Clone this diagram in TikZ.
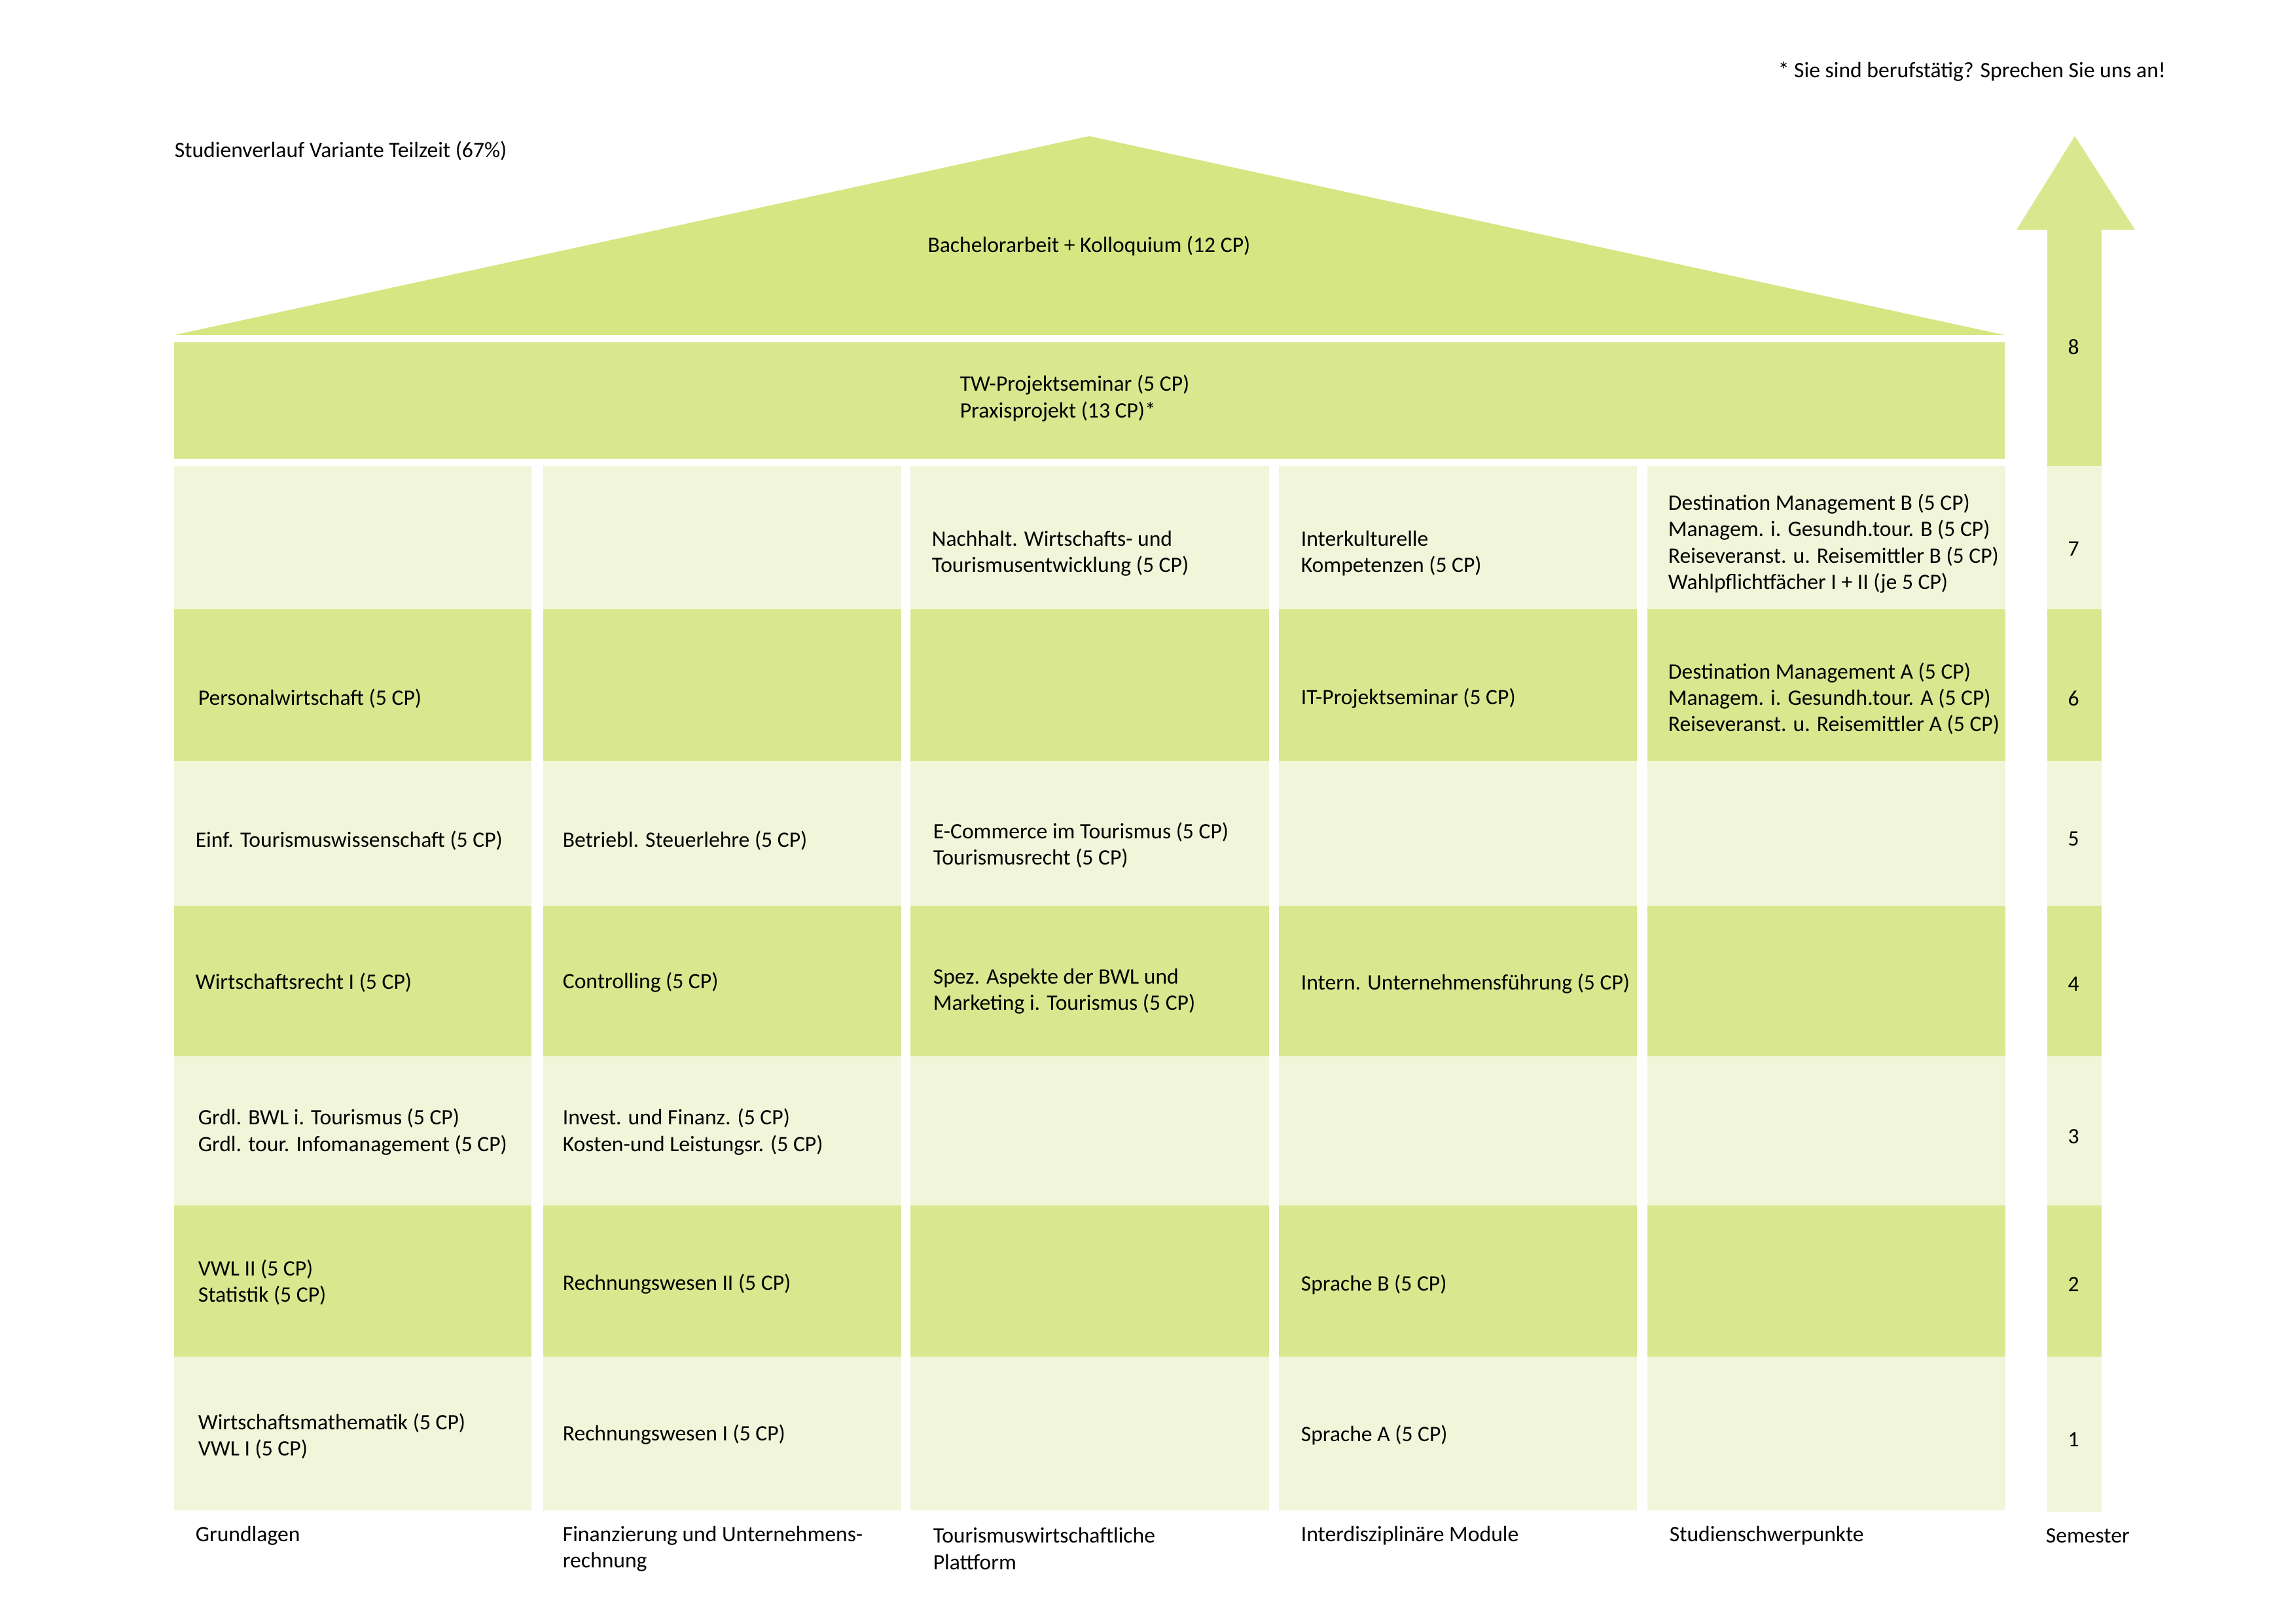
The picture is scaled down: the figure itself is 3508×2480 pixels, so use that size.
\documentclass[tikz,border=0pt]{standalone}
\usepackage{fontspec}
\setmainfont{Carlito}
\definecolor{roofgreen}{HTML}{D5E683}
\definecolor{darkcell}{HTML}{D9E78F}
\definecolor{lightcell}{HTML}{F1F6DA}
\begin{document}
\begin{tikzpicture}[x=0.08467mm,y=-0.08467mm,
  txt/.style={inner sep=0pt,align=left,anchor=west,yshift=-1.1pt,font=\fontsize{8.1}{9.7}\selectfont},
  lt/.style={fill=lightcell},
  dk/.style={fill=darkcell}]
\useasboundingbox (0,0) rectangle (3508,2480);
% roof
\fill[roofgreen] (266,512) -- (1664,208) -- (3063,512) -- cycle;
\node[txt,anchor=center] (bach) at (1664,371) {Bachelorarbeit + Kolloquium (12 CP)};
% TW band
\fill[darkcell] (266,523) rectangle (3063,701);
\node[txt] (tw) at (1466,604) {TW-Projektseminar (5 CP)\\Praxisprojekt (13 CP)*};
% grid cells
\foreach \xa/\xb in {266/812,830/1377,1391/1939,1954/2501,2517/3064}{
  \fill[lt] (\xa,712) rectangle (\xb,931);
  \fill[dk] (\xa,931) rectangle (\xb,1163);
  \fill[lt] (\xa,1163) rectangle (\xb,1384);
  \fill[dk] (\xa,1384) rectangle (\xb,1614);
  \fill[lt] (\xa,1614) rectangle (\xb,1842);
  \fill[dk] (\xa,1842) rectangle (\xb,2073);
  \fill[lt] (\xa,2073) rectangle (\xb,2308);
}
% semester column and arrow
\fill[darkcell] (3081,351) -- (3170,208) -- (3262,351) -- cycle;
\fill[dk] (3128,350) rectangle (3211,712);
\fill[lt] (3128,712) rectangle (3211,931);
\fill[dk] (3128,931) rectangle (3211,1163);
\fill[lt] (3128,1163) rectangle (3211,1384);
\fill[dk] (3128,1384) rectangle (3211,1614);
\fill[lt] (3128,1614) rectangle (3211,1842);
\fill[dk] (3128,1842) rectangle (3211,2073);
\fill[lt] (3128,2073) rectangle (3211,2310);
\node[txt,anchor=center] (s8) at (3168,526) {8};
\node[txt,anchor=center] (s7) at (3168,834) {7};
\node[txt,anchor=center] (s6) at (3168,1063) {6};
\node[txt,anchor=center] (s5) at (3168,1277) {5};
\node[txt,anchor=center] (s4) at (3168,1499) {4};
\node[txt,anchor=center] (s3) at (3168,1732) {3};
\node[txt,anchor=center] (s2) at (3168,1958) {2};
\node[txt,anchor=center] (s1) at (3168,2195) {1};
% headers
\node[txt] (title) at (266,226) {Studienverlauf Variante Teilzeit (67\%)};
\node[txt] (foot) at (2716,105) {* Sie sind berufstätig? Sprechen Sie uns an!};
% column 1
\node[txt] (c1r6) at (302,1063) {Personalwirtschaft (5 CP)};
\node[txt] (c1r5) at (298,1280) {Einf. Tourismuswissenschaft (5 CP)};
\node[txt] (c1r4) at (298,1497) {Wirtschaftsrecht I (5 CP)};
\node[txt] (c1r3) at (302,1725) {Grdl. BWL i. Tourismus (5 CP)\\Grdl. tour. Infomanagement (5 CP)};
\node[txt] (c1r2) at (302,1955) {VWL II (5 CP)\\Statistik (5 CP)};
\node[txt] (c1r1) at (302,2190) {Wirtschaftsmathematik (5 CP)\\VWL I (5 CP)};
% column 2
\node[txt] (c2r5) at (859,1280) {Betriebl. Steuerlehre (5 CP)};
\node[txt] (c2r4) at (859,1497) {Controlling (5 CP)};
\node[txt] (c2r3) at (859,1725) {Invest. und Finanz. (5 CP)\\Kosten-und Leistungsr. (5 CP)};
\node[txt] (c2r2) at (859,1958) {Rechnungswesen II (5 CP)};
\node[txt] (c2r1) at (859,2188) {Rechnungswesen I (5 CP)};
% column 3
\node[txt] (c3r7) at (1423,841) {Nachhalt. Wirtschafts- und\\Tourismusentwicklung (5 CP)};
\node[txt] (c3r5) at (1425,1287) {E-Commerce im Tourismus (5 CP)\\Tourismusrecht (5 CP)};
\node[txt] (c3r4) at (1425,1510) {Spez. Aspekte der BWL und\\Marketing i. Tourismus (5 CP)};
% column 4
\node[txt] (c4r7) at (1987,841) {Interkulturelle\\Kompetenzen (5 CP)};
\node[txt] (c4r6) at (1987,1063) {IT-Projektseminar (5 CP)};
\node[txt] (c4r4) at (1987,1499) {Intern. Unternehmensführung (5 CP)};
\node[txt] (c4r2) at (1987,1958) {Sprache B (5 CP)};
\node[txt] (c4r1) at (1987,2188) {Sprache A (5 CP)};
% column 5
\node[txt] (c5r7) at (2548,826) {Destination Management B (5 CP)\\Managem. i. Gesundh.tour. B (5 CP)\\Reiseveranst. u. Reisemittler B (5 CP)\\Wahlpflichtfächer I + II (je 5 CP)};
\node[txt] (c5r6) at (2548,1063) {Destination Management A (5 CP)\\Managem. i. Gesundh.tour. A (5 CP)\\Reiseveranst. u. Reisemittler A (5 CP)};
% column labels
\node[txt] (l1) at (298,2342) {Grundlagen};
\node[txt] (l2) at (859,2362) {Finanzierung und Unternehmens-\\rechnung};
\node[txt] (l3) at (1425,2362) {Tourismuswirtschaftliche\\Plattform};
\node[txt] (l4) at (1987,2342) {Interdisziplinäre Module};
\node[txt] (l5) at (2550,2342) {Studienschwerpunkte};
\node[txt] (l6) at (3125,2342) {Semester};
\end{tikzpicture}
\end{document}
